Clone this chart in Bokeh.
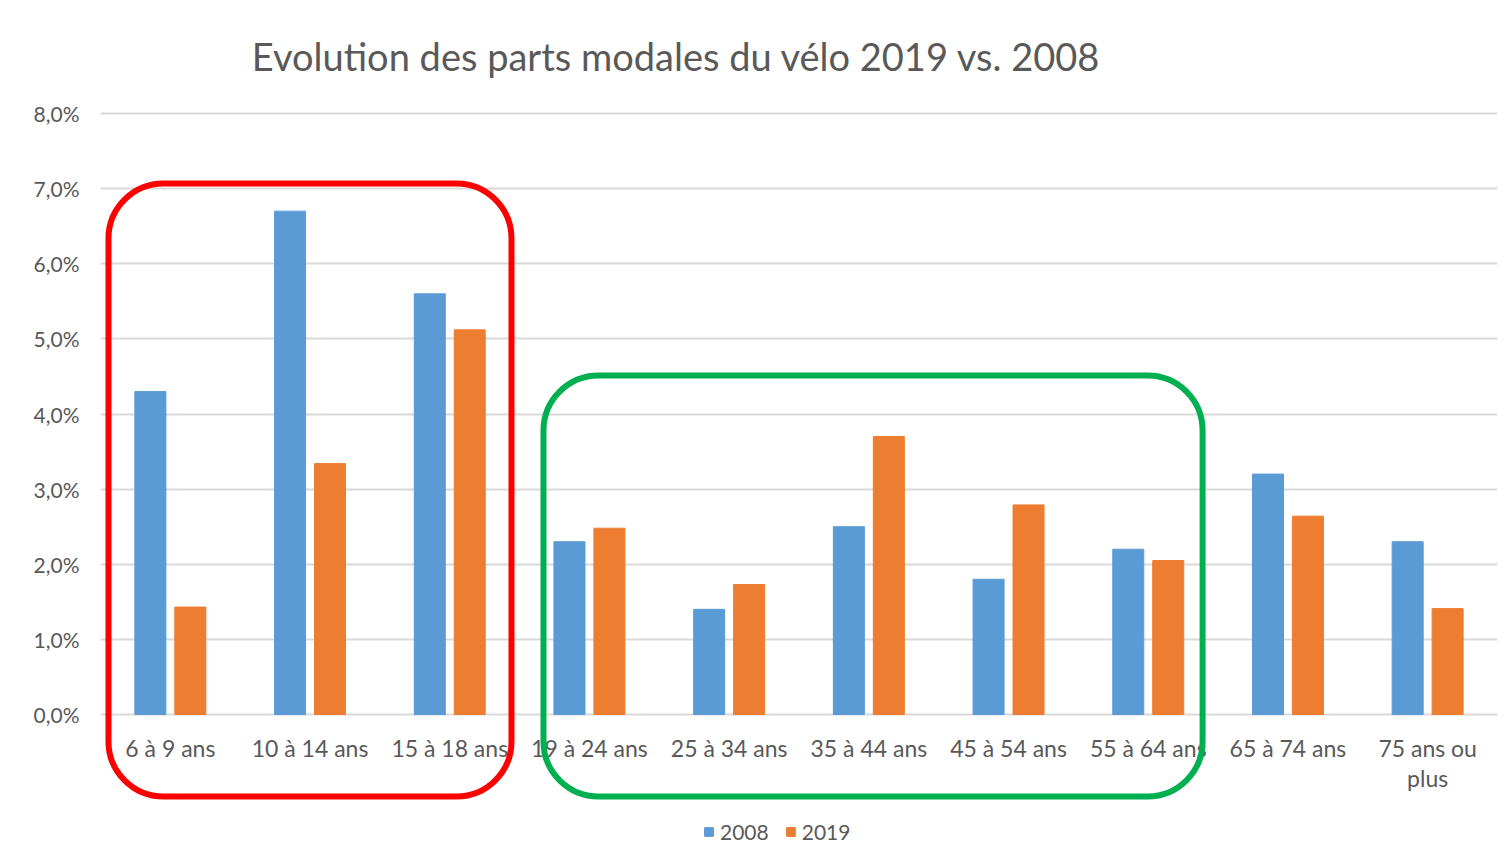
from bokeh.plotting import figure
from bokeh.models import (ColumnDataSource, FactorRange, Range1d, FixedTicker,
                          Label, BoxAnnotation)
from bokeh.transform import dodge
from bokeh.core.properties import value
from bokeh.embed import file_html
from bokeh.resources import INLINE

# ---- data ----
categories = ["6 à 9 ans", "10 à 14 ans", "15 à 18 ans", "19 à 24 ans", "25 à 34 ans",
              "35 à 44 ans", "45 à 54 ans", "55 à 64 ans", "65 à 74 ans", "75 ans ou\nplus"]
share_2008 = [0.043, 0.067, 0.056, 0.023, 0.014, 0.025, 0.018, 0.022, 0.032, 0.023]
share_2019 = [0.0143, 0.0334, 0.0512, 0.0248, 0.0173, 0.0370, 0.0279, 0.0205, 0.0264, 0.0141]
tick_values = [0.0, 0.01, 0.02, 0.03, 0.04, 0.05, 0.06, 0.07, 0.08]
tick_labels = ["0,0%", "1,0%", "2,0%", "3,0%", "4,0%", "5,0%", "6,0%", "7,0%", "8,0%"]
series_names = ["2008", "2019"]
title_text = "Evolution des parts modales du vélo 2019 vs. 2008"

# ---- style ----
BLUE = "#5b9bd5"
ORANGE = "#ed7d31"
GREY = "#595959"
GRID = "#d9d9d9"
FONT = "Lato"

src = ColumnDataSource(data=dict(cat=categories, y2008=share_2008, y2019=share_2019))

# frame geometry (pixels) -> y range so that 0..8% sits where the reference has it
W, H = 1498, 858
LEFT = 100
px_per_unit = 75.125 * 100  # pixels per 1.0 (100%)
zero_from_top = 714          # pixel row of 0% inside the figure
y_end = zero_from_top / px_per_unit
y_start = -(H - zero_from_top) / px_per_unit

p = figure(width=W, height=H, x_range=FactorRange(*categories, range_padding=0),
           y_range=Range1d(y_start, y_end), output_backend="svg", toolbar_location=None,
           min_border_left=LEFT, min_border_right=1, min_border_top=0, min_border_bottom=0)
p.outline_line_color = None
p.background_fill_color = "white"
p.border_fill_color = "white"

p.vbar(x=dodge("cat", -0.143, range=p.x_range), top="y2008", width=0.222, source=src,
       color=BLUE, legend_label=series_names[0])
p.vbar(x=dodge("cat", 0.143, range=p.x_range), top="y2019", width=0.222, source=src,
       color=ORANGE, legend_label=series_names[1])

# category labels
p.text(x="cat", y=0, text="cat", source=src, text_align="center", text_baseline="top",
       y_offset=19, text_font=value(FONT), text_font_size="23px", text_color=GREY,
       text_line_height=1.1)

# axes
p.xaxis.visible = False
p.xgrid.visible = False
p.yaxis.ticker = FixedTicker(ticks=tick_values)
p.yaxis.major_label_overrides = {v: l for v, l in zip(tick_values, tick_labels)}
p.yaxis.axis_line_color = None
p.yaxis.major_tick_line_color = None
p.yaxis.minor_tick_line_color = None
p.yaxis.major_label_standoff = 15
p.yaxis.major_label_text_font = FONT
p.yaxis.major_label_text_font_size = "21px"
p.yaxis.major_label_text_color = GREY
p.ygrid.ticker = FixedTicker(ticks=tick_values)
p.ygrid.grid_line_color = GRID
p.ygrid.grid_line_width = 2

# title
p.add_layout(Label(x=576, y=H - 55, x_units="screen", y_units="screen", text=title_text,
                   text_align="center", text_baseline="middle", text_font=FONT,
                   text_font_size="38px", text_color=GREY))

# highlight boxes
p.add_layout(BoxAnnotation(left=0.057, right=2.942, top=0.07068, bottom=-0.0109,
                           fill_alpha=0, line_color="#ff0000", line_alpha=1, line_width=6,
                           border_radius=55))
p.add_layout(BoxAnnotation(left=3.171, right=7.889, top=0.04512, bottom=-0.0109,
                           fill_alpha=0, line_color="#00b050", line_alpha=1, line_width=6,
                           border_radius=55))

# legend
leg = p.legend[0]
leg.orientation = "horizontal"
leg.location = (603, 14)
leg.border_line_color = None
leg.background_fill_alpha = 0
leg.padding = 0
leg.margin = 0
leg.spacing = 16
leg.glyph_width = 11
leg.glyph_height = 11
leg.label_standoff = 6
leg.label_text_font = FONT
leg.label_text_font_size = "21px"
leg.label_text_color = GREY

open("out.html", "w").write(file_html(p, INLINE))
